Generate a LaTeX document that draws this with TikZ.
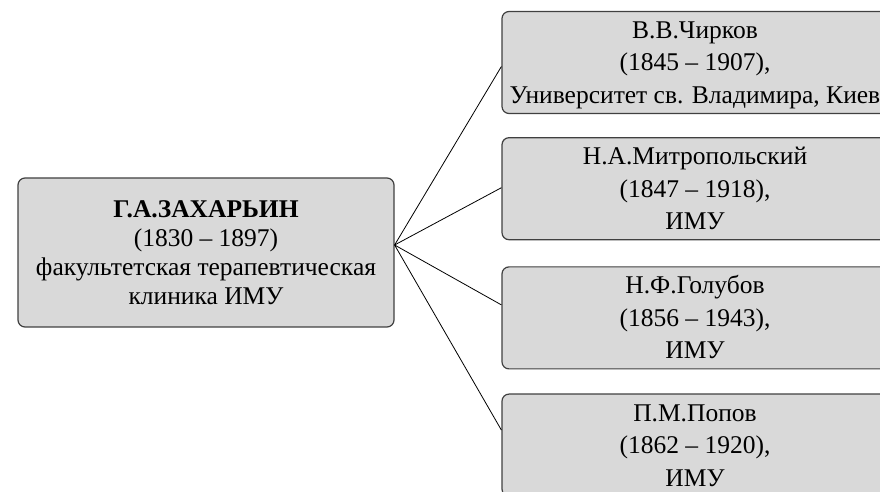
\documentclass[tikz,border=0pt]{standalone}
\usepackage{fontspec}
\setmainfont{Liberation Serif}
\usetikzlibrary{positioning}
\definecolor{boxgray}{RGB}{217,217,217}
\definecolor{boxline}{RGB}{64,64,64}

\begin{document}
\begin{tikzpicture}[x=1pt, y=1pt,
    card/.style={draw=boxline, line width=1.2pt, fill=boxgray, rounded corners=7pt,
        align=center, inner sep=2pt},
    person/.style={card, font=\fontsize{25.5}{32.5}\selectfont,
        minimum width=386pt, minimum height=102pt, text height=84pt, text depth=2pt},
    chief/.style={card, font=\fontsize{25.5}{29}\selectfont,
        minimum width=376pt, minimum height=149pt},
    link/.style={draw=black, line width=0.8pt}]
    \clip (0,0) rectangle (880,492);
    \useasboundingbox (0,0) rectangle (880,492);

    \node[chief] (zakh) at (206,239.5) {
        \textbf{Г.А.ЗАХАРЬИН}\\(1830 – 1897)\\факультетская терапевтическая\\клиника ИМУ
    };

    \node[person] (chir) at (695,429.5) {
        В.В.Чирков\\(1845 – 1907),\\Университет св. Владимира, Киев
    };
    \node[person, below=23pt of chir] (mitr) {
        Н.А.Митропольский\\(1847 – 1918),\\ИМУ
    };
    \node[person, below=26pt of mitr] (golu) {
        Н.Ф.Голубов\\(1856 – 1943),\\ИМУ
    };
    \node[person, below=24pt of golu] (popo) {
        П.М.Попов\\(1862 – 1920),\\ИМУ
    };

    \coordinate (hub) at ([yshift=7.5pt]zakh.east);
    \foreach \n/\s in {chir/-4, mitr/1, golu/13, popo/15}
        \draw[link] (hub) -- ([yshift=\s pt]\n.west);
\end{tikzpicture}
\end{document}
